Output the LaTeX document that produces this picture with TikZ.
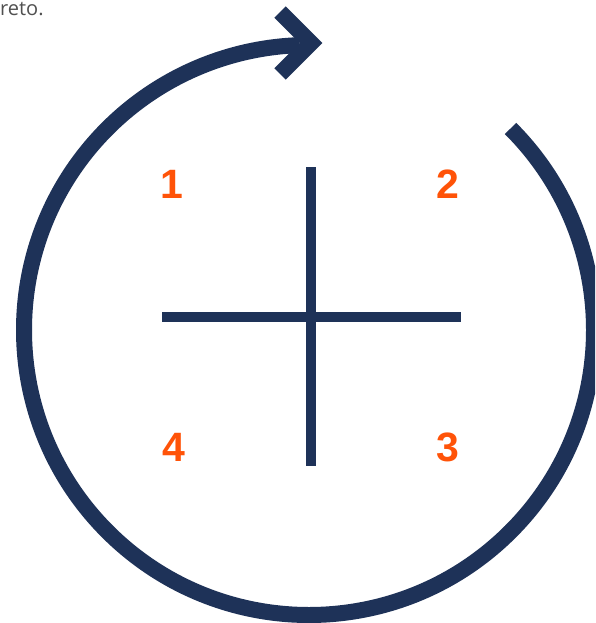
\documentclass[tikz,border=0pt]{standalone}
\usepackage{fontspec}
\usetikzlibrary{calc}
\setmainfont{Liberation Sans}
\newfontfamily\captionfont{Open Sans}
\definecolor{navy}{HTML}{1E3258}
\definecolor{orng}{HTML}{FF5308}
\definecolor{capgray}{HTML}{505050}
\begin{document}
\begin{tikzpicture}[x=1pt,y=-1pt,
  ring/.style={draw=navy,line width=16pt},
  crossline/.style={draw=navy,line width=10pt},
  num/.style={text=orng,font=\fontsize{41}{41}\selectfont\bfseries,inner sep=0pt},
  captext/.style={text=capgray,font=\captionfont\fontsize{20}{20}\selectfont,inner sep=0pt}]
\useasboundingbox (0,0) rectangle (595,623);
\clip (0,0) rectangle (595,623);
\fill[white] (0,0) rectangle (595,623);
% caption fragment
\node[captext,anchor=base west] (caption) at (0,16) {reto.};
% circle with arrow
\coordinate (c) at (309,330);
\draw[ring] ($(c)+(-45:285)$) arc[start angle=-45,end angle=268,radius=285] coordinate (tip);
\draw[ring,line join=miter] (280,12) -- (311,43) -- (280,74);
% cross
\coordinate (vt) at (311,167);
\coordinate (vb) at (311,466);
\coordinate (hl) at (162,317);
\coordinate (hr) at (461,317);
\draw[crossline] (vt) -- (vb);
\draw[crossline] (hl) -- (hr);
% numbers
\node[num] (n1) at (172,184) {1};
\node[num] (n2) at (448,184) {2};
\node[num] (n3) at (448,447) {3};
\node[num] (n4) at (174,447) {4};
\end{tikzpicture}
\end{document}
